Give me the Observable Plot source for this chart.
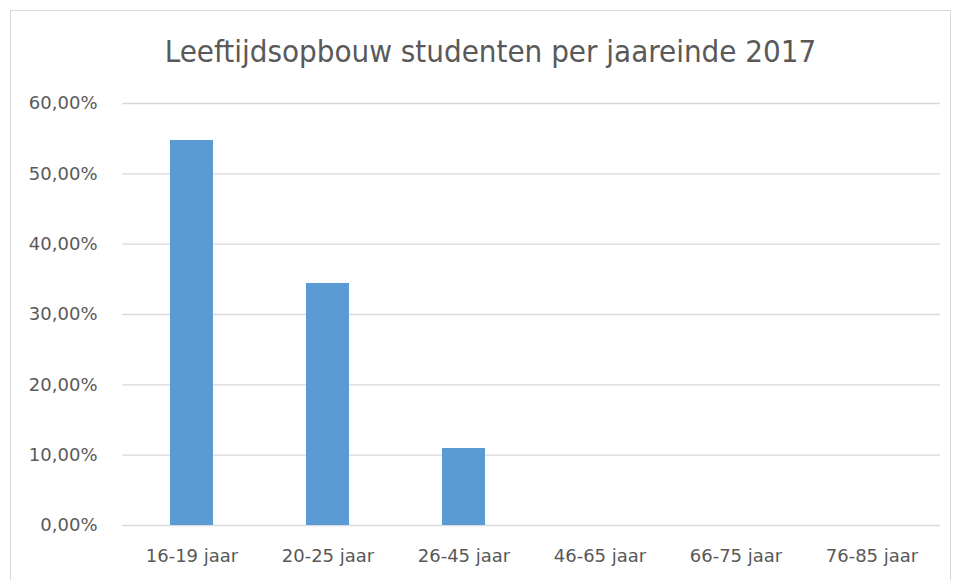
<!DOCTYPE html>
<html>
<head>
<meta charset="utf-8">
<script src="https://cdn.jsdelivr.net/npm/d3@7"></script>
<script src="https://cdn.jsdelivr.net/npm/@observablehq/plot@0.6"></script>
<style>
  html, body { margin: 0; padding: 0; background: #fff; }
  #wrap { position: relative; width: 959px; height: 580px; overflow: hidden; background: #fff; }
  #frame { position: absolute; left: 10px; top: 10px; width: 941px; height: 600px; border: 1px solid #d9d9d9; box-sizing: border-box; }
  #title { position: absolute; left: 0; top: 36px; width: 981px; text-align: center; font-family: "DejaVu Sans Condensed", "DejaVu Sans", sans-serif; font-size: 31px; line-height: 1; color: #595959; white-space: nowrap; }
  #chart { position: absolute; left: 0; top: 0; }
</style>
</head>
<body>
<div id="wrap">
  <div id="frame"></div>
  <div id="title">Leeftijdsopbouw studenten per jaareinde 2017</div>
  <div id="chart"></div>
</div>
<script>
const categories = ["16-19 jaar", "20-25 jaar", "26-45 jaar", "46-65 jaar", "66-75 jaar", "76-85 jaar"];
const values = [0.5474, 0.3441, 0.1095, 0.0, 0.0, 0.0];
const yTicks = [0, 0.1, 0.2, 0.3, 0.4, 0.5, 0.6];

const data = categories.map((c, i) => ({category: c, value: values[i]}));
const nl = d3.formatLocale({decimal: ",", thousands: ".", grouping: [3], currency: ["€", ""]});
const pct = nl.format(".2%");
const font = "'DejaVu Sans', sans-serif";

const plot = Plot.plot({
  width: 959,
  height: 580,
  marginLeft: 122,
  marginRight: 19,
  marginTop: 103,
  marginBottom: 55,
  style: {fontFamily: font, fontSize: "18px", color: "#595959", background: "transparent"},
  x: {domain: categories, paddingInner: 0.685, paddingOuter: 0.3425, align: 0.5, label: null},
  y: {domain: [0, 0.6], label: null},
  marks: [
    Plot.gridY(yTicks, {stroke: "#d9d9d9", strokeOpacity: 1, strokeWidth: 1.3}),
    Plot.barY(data, {x: "category", y: "value", fill: "#5b9bd5"}),
    Plot.axisX({tickSize: 0, tickPadding: 24, fill: "#595959", fontSize: 18, fontFamily: font, label: null}),
    Plot.axisY(yTicks, {tickFormat: pct, tickSize: 0, tickPadding: 25, fill: "#595959", fontSize: 18, fontFamily: font, label: null})
  ]
});
document.getElementById("chart").appendChild(plot);
</script>
</body>
</html>
